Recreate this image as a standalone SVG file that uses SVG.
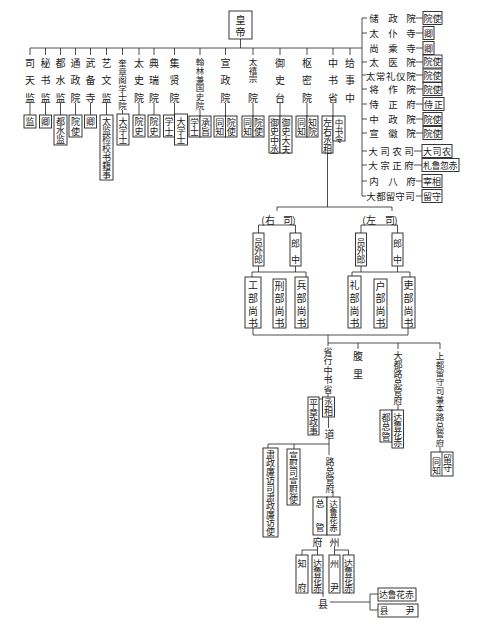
<svg xmlns="http://www.w3.org/2000/svg" width="500" height="630" viewBox="0 0 500 630">
<style>
.t{font-family:"Noto Sans CJK SC","Noto Sans CJK JP",sans-serif;font-size:10px;text-anchor:middle;dominant-baseline:central;fill:#1a1a1a}
.r{font-size:9.5px}
.s{font-size:8.5px}
.b{font-size:9px}
.box{fill:#fff;stroke:#222;stroke-width:0.9}
.ln{fill:none;stroke:#222;stroke-width:0.8}
</style>
<rect width="500" height="630" fill="#fff"/>
<g id="connectors" class="ln">
<path d="M240.5 39V48 M30 48H362 M30 48V55 M45.5 48V55 M60.5 48V55 M75.5 48V55 M90.5 48V55 M106.5 48V55 M122.5 48V55 M139 48V55 M154 48V55 M174.5 48V55 M200 48V55 M225.5 48V55 M253 48V55 M280 48V55 M307 48V55 M333 48V55 M350 48V55"/>
<path d="M30 103V115 M45.5 103V115 M60.5 103V115 M75.5 103V115 M90.5 103V115 M106.5 103V115 M122.5 110V114 M139 103V115 M154 103V115 M174.5 103V114 M200 110V116 M225.5 103V116 M253 103V116 M280 103V116 M307 103V116 M333 103V116"/>
<path d="M362 18V196 M362 18H367 M362 33H367 M362 62H367 M362 75H366 M362 89H367 M362 104H367 M362 119H367 M362 133H367 M362 151H367 M362 165H367 M362 181H367 M362 196H366"/>
<path d="M416 18H423 M416 33H423 M416 48H423 M416 62H423 M416 75H423 M416 89H423 M416 104H423 M416 119H423 M416 133H423 M414 151H422 M414 165H422 M416 181H422 M416 196H422"/>
<path d="M327.5 153V207 M277 211V207H392V211"/>
<path d="M258.5 233V225H295.5V233 M361 233V225H397.5V233"/>
<path d="M258.5 266V272 M295.5 266V272 M252 277V272H306V277 M361 266V272 M397.5 266V272 M352 276V272H410V277"/>
<path d="M253 328V335H408V328 M328 335V346 M328 343H440 M358 343V349 M398 343V349 M440 343V349"/>
<path d="M398 404V410 M440 446V452"/>
<path d="M328 393V397 M319 399H322.5 M328.5 417V428 M329 438V455 M268 444H329 M268 444V448 M294 444V449 M333 491V497"/>
<path d="M317.5 546V555 M317.5 550H302V555 M334.5 546V555 M334.5 550H348.5V555"/>
<path d="M323 593V597 M330 602H370 M370 594V610 M370 594H378 M370 610H378"/>
</g>
<g id="n-huangdi"><rect class="box" x="229" y="11" width="23" height="28"/><text class="t" x="240.5 240.5" y="19 31">皇帝</text></g>
<g id="n-sitianjian"><text class="t" x="30 30 30" y="62 79.5 97">司天监</text><rect class="box" x="24" y="115" width="12" height="13"/><text class="t b" x="30" y="121.5">监</text></g>
<g id="n-mishujian"><text class="t" x="45.5 45.5 45.5" y="62 79.5 97">秘书监</text><rect class="box" x="39.5" y="115" width="12" height="13"/><text class="t b" x="45.5" y="121.5">卿</text></g>
<g id="n-dushuijian"><text class="t" x="60.5 60.5 60.5" y="62 79.5 97">都水监</text><rect class="box" x="54" y="115" width="13" height="30"/><text class="t b" x="60.5 60.5 60.5" y="121 130 139">都水监</text></g>
<g id="n-tongzhengyuan"><text class="t" x="75.5 75.5 75.5" y="62 79.5 97">通政院</text><rect class="box" x="69" y="115" width="13" height="22"/><text class="t b" x="75.5 75.5" y="121 131">院使</text></g>
<g id="n-wubeisi"><text class="t" x="90.5 90.5 90.5" y="62 79.5 97">武备寺</text><rect class="box" x="84.5" y="115" width="12" height="13"/><text class="t b" x="90.5" y="121.5">卿</text></g>
<g id="n-yiwenjian"><text class="t" x="106.5 106.5 106.5" y="62 79.5 97">艺文监</text><rect class="box" x="100" y="115" width="13" height="65"/><text class="t b" x="106.5 106.5 106.5 106.5 106.5 106.5 106.5" y="121 130 139 148 157 165.5 174">太监检校书籍事</text></g>
<g id="n-kuizhangge"><text class="t s" x="122.5 122.5 122.5 122.5 122.5 122.5" y="62 70.6 79.2 87.8 96.4 105">奎章阁学士院</text><rect class="box" x="117" y="114" width="12" height="31"/><text class="t b" x="123 123 123" y="121 130 139">大学士</text></g>
<g id="n-taishiyuan"><text class="t" x="139 139 139" y="62 79.5 97">太史院</text><rect class="box" x="133" y="115" width="12" height="22"/><text class="t b" x="139 139" y="121 131">院史</text></g>
<g id="n-dianruiyuan"><text class="t" x="154 154 154" y="62 79.5 97">典瑞院</text><rect class="box" x="148" y="115" width="12" height="22"/><text class="t b" x="154 154" y="121 131">院史</text></g>
<g id="n-jixianyuan"><text class="t" x="174.5 174.5 174.5" y="62 79.5 97">集贤院</text><rect class="box" x="163.5" y="115" width="11" height="22"/><text class="t b" x="169 169" y="121 131">学士</text><rect class="box" x="174.5" y="114" width="13" height="31"/><text class="t b" x="181 181 181" y="121 130 139">大学士</text></g>
<g id="n-hanlin"><text class="t s" x="200 200 200 200 200 200" y="61 69.8 78.6 87.4 96.2 105">翰林兼国史院</text><rect class="box" x="189" y="116" width="11" height="21"/><text class="t b" x="194.5 194.5" y="122 131">学士</text><rect class="box" x="200" y="116" width="11" height="21"/><text class="t b" x="205.5 205.5" y="122 131">承旨</text></g>
<g id="n-xuanzhengyuan"><text class="t" x="225.5 225.5 225.5" y="62 79.5 97">宣政院</text><rect class="box" x="214" y="116" width="11.5" height="21"/><text class="t b" x="219.7 219.7" y="122 131">同知</text><rect class="box" x="225.5" y="116" width="11.5" height="21"/><text class="t b" x="231.3 231.3" y="122 131">院使</text></g>
<g id="n-taixi"><text class="t s" x="253 253 253" y="61 69.5 78">太禧宗</text><text class="t" x="253" y="97">院</text><rect class="box" x="242" y="116" width="11" height="21"/><text class="t b" x="247.5 247.5" y="122 131">同知</text><rect class="box" x="253" y="116" width="11" height="21"/><text class="t b" x="258.5 258.5" y="122 131">院使</text></g>
<g id="n-yushitai"><text class="t" x="280 280 280" y="62 79.5 97">御史台</text><rect class="box" x="269" y="116" width="11" height="37"/><text class="t b" x="274.5 274.5 274.5 274.5" y="122 131 140 149">御史中丞</text><rect class="box" x="280" y="116" width="12" height="37"/><text class="t b" x="286 286 286 286" y="122 131 140 149">御史大夫</text></g>
<g id="n-shumiyuan"><text class="t" x="307 307 307" y="62 79.5 97">枢密院</text><rect class="box" x="296" y="116" width="11" height="21"/><text class="t b" x="301.5 301.5" y="122 131">同知</text><rect class="box" x="307" y="116" width="11" height="21"/><text class="t b" x="312.5 312.5" y="122 131">知院</text></g>
<g id="n-zhongshusheng"><text class="t" x="333 333 333" y="62 79.5 97">中书省</text><rect class="box" x="322" y="116" width="11" height="37"/><text class="t b" x="327.5 327.5 327.5 327.5" y="122 131 140 149">左右丞相</text><rect class="box" x="333" y="116" width="12" height="25"/><text class="t s" x="339 339 339" y="122 130 138">中书令</text></g>
<g id="n-jishizhong"><text class="t" x="350 350 350" y="62 79.5 97">给事中</text></g>
<g id="n-r1"><text class="t r" x="374 393 411" y="18">储政院</text><rect class="box" x="423" y="11.5" width="19" height="13"/><text class="t b" x="428 437" y="18">院使</text></g>
<g id="n-r2"><text class="t r" x="374 393 411" y="33">太仆寺</text><rect class="box" x="423" y="26.5" width="11" height="13"/><text class="t b" x="428.5" y="33">卿</text></g>
<g id="n-r3"><text class="t r" x="374 393 411" y="48">尚乘寺</text><rect class="box" x="423" y="41.5" width="11" height="13"/><text class="t b" x="428.5" y="48">卿</text></g>
<g id="n-r4"><text class="t r" x="374 393 411" y="61.5">太医院</text><rect class="box" x="423" y="55" width="19" height="13"/><text class="t b" x="428 437" y="61.5">院使</text></g>
<g id="n-r5"><text class="t r" x="370.5 380.6 390.7 400.8 411" y="75.5">太常礼仪院</text><rect class="box" x="423" y="69" width="19" height="13"/><text class="t b" x="428 437" y="75.5">院使</text></g>
<g id="n-r6"><text class="t r" x="374 393 411" y="89">将作院</text><rect class="box" x="423" y="82.5" width="19" height="13"/><text class="t b" x="428 437" y="89">院使</text></g>
<g id="n-r7"><text class="t r" x="374 393 411" y="104">侍正府</text><rect class="box" x="423" y="97.5" width="21" height="13"/><text class="t b" x="428.5 438.5" y="104">侍正</text></g>
<g id="n-r8"><text class="t r" x="374 393 411" y="119">中政院</text><rect class="box" x="423" y="112.5" width="19" height="13"/><text class="t b" x="428 437" y="119">院使</text></g>
<g id="n-r9"><text class="t r" x="374 393 411" y="133">宣徽院</text><rect class="box" x="423" y="126.5" width="19" height="13"/><text class="t b" x="428 437" y="133">院使</text></g>
<g id="n-r10"><text class="t r" x="373 385 397 409" y="151">大司农司</text><rect class="box" x="422" y="144.5" width="30" height="13"/><text class="t b" x="427.5 437 446.5" y="151">大司农</text></g>
<g id="n-r11"><text class="t r" x="373 385 397 409" y="165">大宗正府</text><rect class="box" x="422" y="158.5" width="37" height="13"/><text class="t b" x="427.5 436 444.5 453" y="165">札鲁忽赤</text></g>
<g id="n-r12"><text class="t r" x="374 393 411" y="181">内八府</text><rect class="box" x="422" y="174.5" width="20" height="13"/><text class="t b" x="427.5 436.5" y="181">宰相</text></g>
<g id="n-r13"><text class="t r" x="371 381 390.5 400 410" y="196">大都留守司</text><rect class="box" x="422" y="189.5" width="20" height="13"/><text class="t b" x="427.5 436.5" y="196">留守</text></g>
<g id="n-yousi"><text class="t" x="263 270 279 288 294" y="219">(右　司)</text></g>
<g id="n-zuosi"><text class="t" x="364 371 380 390 396" y="219">(左　司)</text></g>
<g id="n-you-ywl"><rect class="box" x="253" y="233" width="11" height="33"/><text class="t b" x="258.5 258.5 258.5" y="242 250.5 259">员外郎</text></g>
<g id="n-you-lz"><rect class="box" x="290" y="233" width="11" height="33"/><text class="t b" x="295.5 295.5" y="243 259">郎中</text></g>
<g id="n-zuo-ywl"><rect class="box" x="355.5" y="233" width="11" height="33"/><text class="t b" x="361 361 361" y="242 250.5 259">员外郎</text></g>
<g id="n-zuo-lz"><rect class="box" x="392" y="233" width="11" height="33"/><text class="t b" x="397.5 397.5" y="243 259">郎中</text></g>
<g id="n-gongbu"><rect class="box" x="245" y="277" width="16" height="51"/><text class="t" x="253 253 253 253" y="284 297 310 322.5">工部尚书</text></g>
<g id="n-xingbu"><rect class="box" x="273" y="279" width="13" height="49"/><text class="t" x="279.5 279.5 279.5 279.5" y="285 297.5 310 322.5">刑部尚书</text></g>
<g id="n-bingbu"><rect class="box" x="295" y="277" width="13" height="51"/><text class="t" x="301.5 301.5 301.5 301.5" y="284.5 297 310 322.5">兵部尚书</text></g>
<g id="n-libu"><rect class="box" x="348" y="276" width="13" height="52"/><text class="t" x="354.5 354.5 354.5 354.5" y="284 297 310 322.5">礼部尚书</text></g>
<g id="n-hubu"><rect class="box" x="374" y="279" width="13" height="49"/><text class="t" x="380.5 380.5 380.5 380.5" y="285 297.5 310 322.5">户部尚书</text></g>
<g id="n-libu2"><rect class="box" x="402" y="277" width="13" height="51"/><text class="t" x="408.5 408.5 408.5 408.5" y="284.5 297 310 322.5">吏部尚书</text></g>
<g id="n-xingsheng"><text class="t b" x="328 328 328 328 328" y="351 360.5 370 379.5 389">省行中书省</text></g>
<g id="n-fuli"><text class="t" x="358 358" y="355 373">腹里</text></g>
<g id="n-dadulu"><text class="t b" x="398 398 398 398 398 398" y="355 364 373 382 391 400">大都路总管府</text></g>
<g id="n-shangdu"><text class="t s" x="440 440 440 440 440 440 440 440 440 440 440" y="355 363.7 372.4 381.1 389.8 398.5 407.2 415.9 424.6 433.3 442">上都留守司兼本路总管府</text></g>
<g id="n-duzongguan"><rect class="box" x="380" y="410" width="12" height="32"/><text class="t b" x="386 386 386" y="417 426.5 436">都总管</text><rect class="box" x="392" y="410" width="11.5" height="38"/><text class="t b" x="397.8 397.8 397.8 397.8" y="417 425.5 434 442.5">达鲁花赤</text></g>
<g id="n-liushou"><rect class="box" x="431" y="452" width="22" height="24"/><line class="ln" x1="442" y1="452" x2="442" y2="476"/><text class="t b" x="436.5 436.5" y="461 470">同知</text><text class="t b" x="447.5 447.5" y="458.5 467.5">留守</text></g>
<g id="n-chengxiang"><rect class="box" x="322.5" y="397" width="12" height="20"/><text class="t b" x="328.5 328.5" y="402.5 411.5">丞相</text></g>
<g id="n-pingzhang"><rect class="box" x="308" y="397" width="11" height="38"/><text class="t b" x="313.5 313.5 313.5 313.5" y="403 412 421 430">平章政事</text></g>
<g id="n-dao"><text class="t" x="329.5" y="433">道</text></g>
<g id="n-suzheng"><rect class="box" x="263" y="448" width="15" height="89"/><text class="t b" x="270.5 270.5 270.5 270.5 270.5 270.5 270.5 270.5 270.5 270.5" y="454 462.6 471.2 479.8 488.4 497 505.6 514.2 522.8 531.4">肃政廉访司肃政廉访使</text></g>
<g id="n-xuanwei"><rect class="box" x="287" y="449" width="13" height="56"/><text class="t b" x="293.5 293.5 293.5 293.5 293.5 293.5" y="455 463.8 472.6 481.4 490.2 499">宣慰司宣慰使</text></g>
<g id="n-luzongguan"><text class="t b" x="330 330 330 330" y="461 470 479 488">路总管府</text><rect class="box" x="313" y="497" width="14" height="38"/><text class="t b" x="320 320" y="503.5 527">总管</text><rect class="box" x="327" y="497" width="13" height="38"/><text class="t s" x="333.5 333.5 333.5 333.5" y="503 511 519 527">达鲁花赤</text></g>
<g id="n-fu"><text class="t" x="317.5" y="541">府</text><rect class="box" x="296" y="555" width="12" height="38"/><text class="t b" x="302 302" y="563 587">知府</text><rect class="box" x="312" y="555" width="11" height="38"/><text class="t b" x="317.5 317.5 317.5 317.5" y="563 571.5 580 588.5">达鲁花赤</text></g>
<g id="n-zhou"><text class="t" x="334.5" y="541">州</text><rect class="box" x="329" y="555" width="11" height="38"/><text class="t b" x="334.5 334.5" y="563 587">州尹</text><rect class="box" x="343" y="555" width="11" height="38"/><text class="t b" x="348.5 348.5 348.5 348.5" y="563 571.5 580 588.5">达鲁花赤</text></g>
<g id="n-xian"><text class="t" x="323" y="603">县</text><rect class="box" x="378" y="588" width="38" height="13"/><text class="t b" x="383.5 392 400.5 409.5" y="594.5">达鲁花赤</text><rect class="box" x="378" y="604" width="40" height="13"/><text class="t b" x="384 410" y="610.5">县尹</text></g>
</svg>
